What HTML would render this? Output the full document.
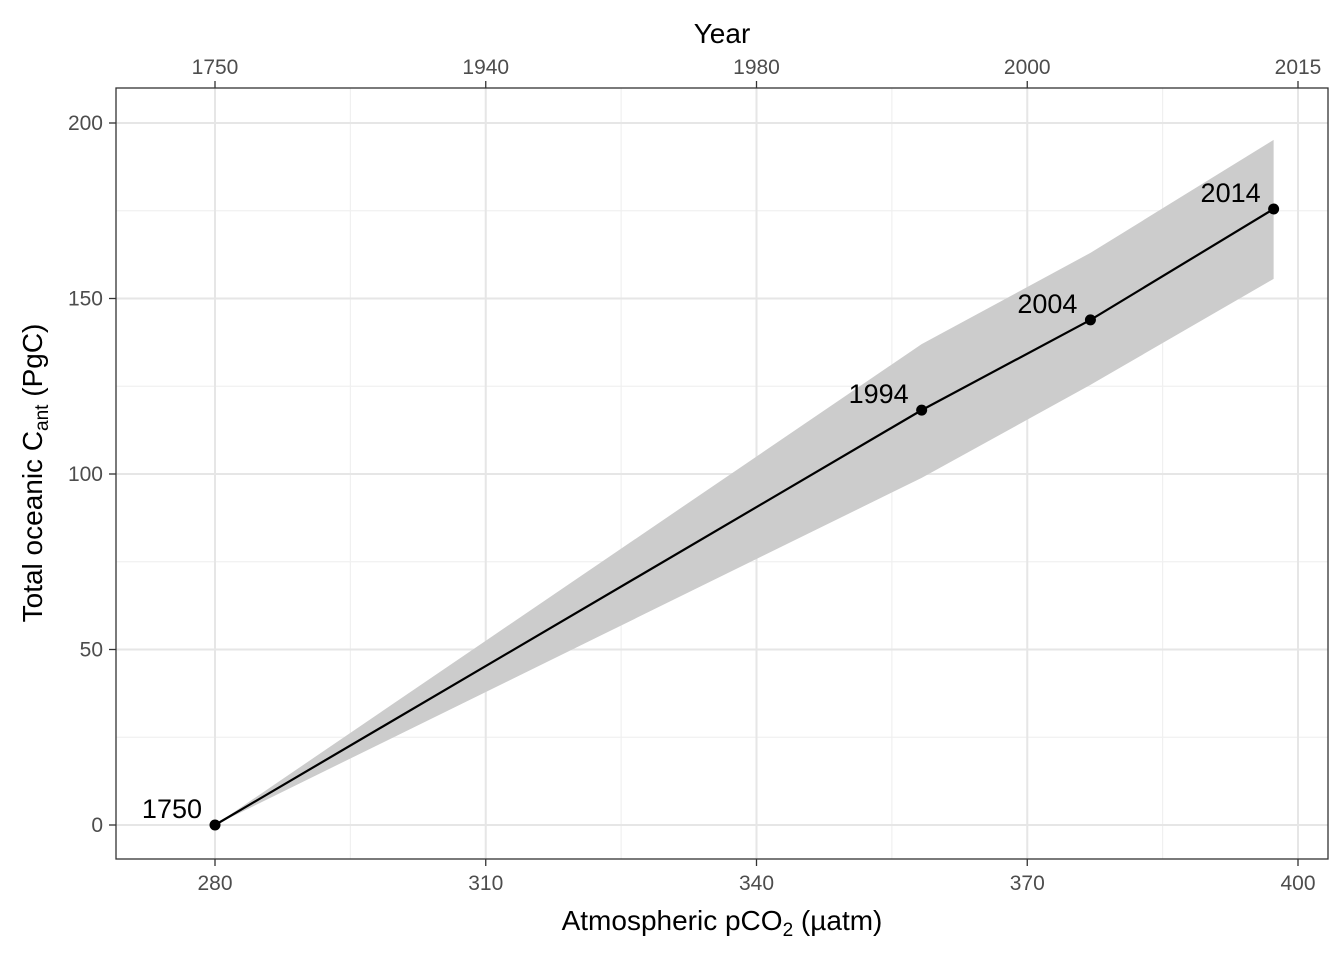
<!DOCTYPE html>
<html><head><meta charset="utf-8"><style>
body{margin:0;background:#fff;}
svg text{font-family:"Liberation Sans",sans-serif;}
</style></head><body>
<svg id="chart" width="1344" height="960" xmlns="http://www.w3.org/2000/svg">
<rect width="1344" height="960" fill="#fff"/>
<g id="grid"></g>
<g id="marks"></g>
<rect x="116" y="88" width="1212" height="771" fill="none" stroke="#333" stroke-width="1.3"/>
<g id="axes"></g>
<text x="722" y="43" font-size="28" text-anchor="middle">Year</text>
<text x="722" y="930" font-size="28" text-anchor="middle">Atmospheric pCO<tspan font-size="19" dy="6">2</tspan><tspan dy="-6"> (µatm)</tspan></text>
<text transform="translate(42,473) rotate(-90)" font-size="28" text-anchor="middle">Total oceanic C<tspan font-size="19" dy="6">ant</tspan><tspan dy="-6"> (PgC)</tspan></text>
</svg>
<script>
const pco2 = [280, 358.3, 377, 397.3];
const cant = [0, 118.2, 143.9, 175.5];
const upper = [0, 137, 163, 195.2];
const lower = [0, 98.9, 125.4, 155.6];
const yearLabels = ["1750", "1994", "2004", "2014"];
const xTicks = [280, 310, 340, 370, 400];
const yTicks = [0, 50, 100, 150, 200];
const topTickLabels = ["1750", "1940", "1980", "2000", "2015"];
const xMinor = [295, 325, 355, 385];
const yMinor = [25, 75, 125, 175];

const NS = "http://www.w3.org/2000/svg";
const X = v => 215 + (v - 280) * (1298 - 215) / 120;
const Y = v => 825 - v * (825 - 123) / 200;
function mk(tag, attrs, parent, text){const e=document.createElementNS(NS,tag);for(const k in attrs)e.setAttribute(k,attrs[k]);if(text!==undefined)e.textContent=text;parent.appendChild(e);return e;}
const grid=document.getElementById('grid'), marks=document.getElementById('marks'), axes=document.getElementById('axes');
mk('rect',{x:116,y:88,width:1212,height:771,fill:'#fff'},grid);
xMinor.forEach(v=>{const l=mk('line',{x1:X(v),x2:X(v),y1:88,y2:859,stroke:'#f0f0f0','stroke-width':1.2},grid);

});
yMinor.forEach(v=>{const l=mk('line',{x1:116,x2:1328,y1:Y(v),y2:Y(v),stroke:'#f0f0f0','stroke-width':1.2},grid);

});
xTicks.forEach((v,i)=>{
 const l=mk('line',{x1:X(v),x2:X(v),y1:88,y2:859,stroke:'#e6e6e6','stroke-width':2},grid);
 
 
 mk('line',{x1:X(v),x2:X(v),y1:859,y2:866,stroke:'#333','stroke-width':1.3},axes);
 mk('line',{x1:X(v),x2:X(v),y1:81,y2:88,stroke:'#333','stroke-width':1.3},axes);
 const t=mk('text',{x:X(v),y:890,'font-size':21,fill:'#4d4d4d','text-anchor':'middle'},axes,String(v));
 
 
 const t2=mk('text',{x:X(v),y:74,'font-size':21,fill:'#4d4d4d','text-anchor':'middle'},axes,topTickLabels[i]);
 
 
});
yTicks.forEach(v=>{
 const l=mk('line',{x1:116,x2:1328,y1:Y(v),y2:Y(v),stroke:'#e6e6e6','stroke-width':2},grid);
 
 
 mk('line',{x1:109,x2:116,y1:Y(v),y2:Y(v),stroke:'#333','stroke-width':1.3},axes);
 const t=mk('text',{x:103,y:Y(v)+7,'font-size':21,fill:'#4d4d4d','text-anchor':'end'},axes,String(v));
 
 
});
let pts=pco2.map((p,i)=>X(p)+','+Y(upper[i]));
for(let i=pco2.length-1;i>=0;i--)pts.push(X(pco2[i])+','+Y(lower[i]));
const rib=mk('polygon',{points:pts.join(' '),fill:'#cccccc'},marks);


const ln=mk('polyline',{points:pco2.map((p,i)=>X(p)+','+Y(cant[i])).join(' '),fill:'none',stroke:'#000','stroke-width':2.2},marks);


pco2.forEach((p,i)=>{
 const c=mk('circle',{cx:X(p),cy:Y(cant[i]),r:5.5,fill:'#000'},marks);
 
 
 const t=mk('text',{x:X(p)-13,y:Y(cant[i])-7,'font-size':27,'text-anchor':'end'},marks,yearLabels[i]);
 
 
});
</script>
</body></html>
